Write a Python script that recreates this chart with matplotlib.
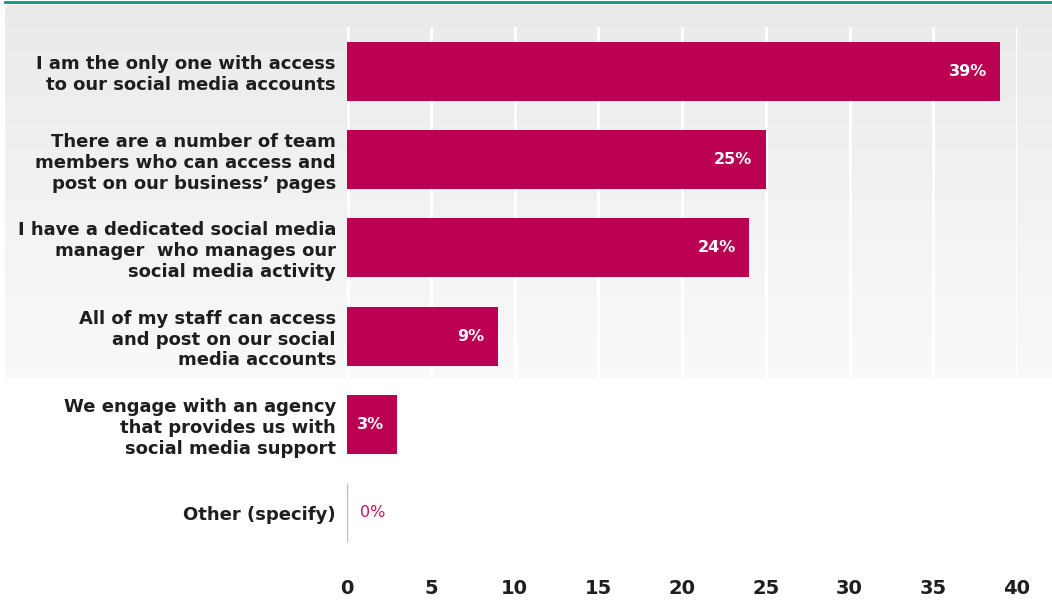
import numpy as np
import matplotlib
matplotlib.use("Agg")
import matplotlib.pyplot as plt

categories = [
    "I am the only one with access\nto our social media accounts",
    "There are a number of team\nmembers who can access and\npost on our business\u2019 pages",
    "I have a dedicated social media\nmanager  who manages our\nsocial media activity",
    "All of my staff can access\nand post on our social\nmedia accounts",
    "We engage with an agency\nthat provides us with\nsocial media support",
    "Other (specify)",
]
values = [39, 25, 24, 9, 3, 0]
x_ticks = [0, 5, 10, 15, 20, 25, 30, 35, 40]

BAR = "#bc0052"
TEXT = "#1e1e1e"
FONT = ["DejaVu Sans"]

W, H = 1052, 602
fig = plt.figure(figsize=(W / 100, H / 100), dpi=100)
fig.patch.set_facecolor("white")

# soft grey panel behind the upper part of the chart
bg = fig.add_axes([5 / W, 1 - 378 / H, 1 - 5 / W, 373 / H], zorder=-10)
grad = np.linspace(0.918, 0.978, 256).reshape(-1, 1)
bg.imshow(np.dstack([grad, grad, grad]), aspect="auto", extent=[0, 1, 0, 1],
          origin="upper")
bg.axis("off")

# teal rule along the top edge
fig.add_artist(plt.Line2D([5 / W, 1], [1 - 2 / H, 1 - 2 / H],
                          transform=fig.transFigure, color="#12967f", lw=2))

ax = fig.add_axes([347 / W, 1 - 557 / H, (1017 - 347) / W, 530 / H])
ax.patch.set_alpha(0)
y = np.arange(len(categories))
ax.barh(y, values, height=0.67, color=BAR, zorder=3)
# a zero-length bar still shows as a hairline
ax.vlines(0, 5 - 0.335, 5 + 0.335, color="#e4a9c0", lw=1, zorder=3)

ax.set_xlim(0, 40)
ax.set_ylim(5.5, -0.5)
ax.set_xticks(x_ticks)
ax.set_xticklabels([str(t) for t in x_ticks], fontsize=14, fontweight="bold",
                   color=TEXT, family=FONT)
ax.tick_params(axis="x", length=0, pad=16)
ax.set_yticks(y)
ax.set_yticklabels(categories, fontsize=13, fontweight="bold", color=TEXT,
                   family=FONT, linespacing=1.2)
ax.tick_params(axis="y", length=0, pad=8)
for s in ax.spines.values():
    s.set_visible(False)
ax.grid(axis="x", color="white", lw=2.2, zorder=1)
ax.axvline(0, color="white", lw=4, zorder=2)

for yi, v in zip(y, values):
    if v > 0:
        ax.text(v - 0.8, yi, f"{v}%", ha="right", va="center", color="white",
                fontsize=11.5, fontweight="bold", family=FONT, zorder=4)
    else:
        ax.text(0.8, yi, f"{v}%", ha="left", va="center", color="#c8125e",
                fontsize=11.5, family=FONT, zorder=4)

fig.savefig("out.png", dpi=100, facecolor="white")
